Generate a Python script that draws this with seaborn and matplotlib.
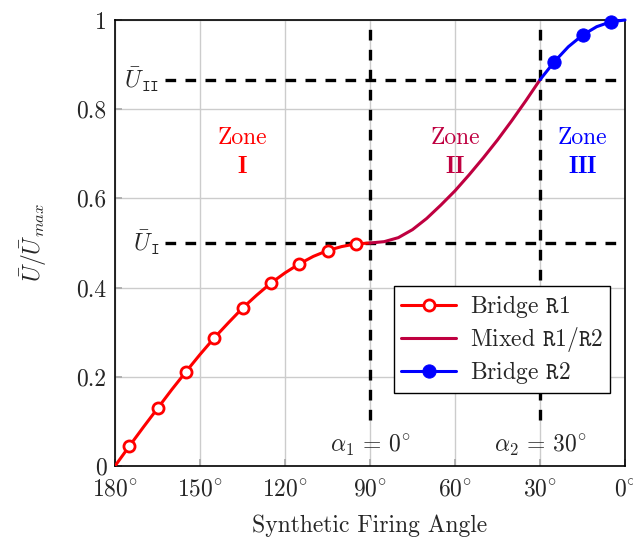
import numpy as np
import pandas as pd
import matplotlib
matplotlib.use("Agg")
import matplotlib.pyplot as plt
import seaborn as sns

# ---- data ----
r1_angle = [180, 175, 170, 165, 160, 155, 150, 145, 140, 135, 130, 125, 120, 115, 110, 105, 100, 95, 90]
r1_value = [0.0, 0.044, 0.087, 0.129, 0.171, 0.211, 0.250, 0.287, 0.321, 0.354, 0.383, 0.410, 0.433, 0.453, 0.470, 0.483, 0.492, 0.498, 0.500]
mix_angle = [90, 85, 80, 75, 70, 65, 60, 55, 50, 45, 40, 35, 30]
mix_value = [0.500, 0.503, 0.512, 0.530, 0.555, 0.585, 0.617, 0.653, 0.691, 0.731, 0.774, 0.819, 0.866]
r2_angle = [30, 25, 20, 15, 10, 5, 0]
r2_value = [0.866, 0.906, 0.940, 0.966, 0.985, 0.996, 1.0]
x_ticks = [180, 150, 120, 90, 60, 30, 0]
y_ticks = [0, 0.2, 0.4, 0.6, 0.8, 1]
u1_level = 0.5
u2_level = 0.866
alpha1 = 90
alpha2 = 30

RED = "#ff0000"
PURPLE = "#bf0040"
BLUE = "#0000ff"

sns.set_theme(style="whitegrid")
plt.rcParams["font.family"] = ["cmr10", "DejaVu Serif"]
plt.rcParams["mathtext.fontset"] = "cm"
plt.rcParams["axes.formatter.use_mathtext"] = True
plt.rcParams["axes.unicode_minus"] = False

fig = plt.figure(figsize=(6.33, 5.41), dpi=100)
ax = fig.add_axes([115/633, 1-466/541, (625-115)/633, (466-20)/541])

FS = 17

r1 = pd.DataFrame({"angle": r1_angle, "U": r1_value})
mx = pd.DataFrame({"angle": mix_angle, "U": mix_value})
r2 = pd.DataFrame({"angle": r2_angle, "U": r2_value})

sns.lineplot(data=r1, x="angle", y="U", ax=ax, color=RED, lw=2.2, marker="o",
             markevery=list(range(1, len(r1_angle), 2)), markersize=8,
             markerfacecolor="white", markeredgecolor=RED, markeredgewidth=2,
             label=r"Bridge $\mathtt{R1}$", zorder=5)
sns.lineplot(data=mx, x="angle", y="U", ax=ax, color=PURPLE, lw=2.2,
             label=r"Mixed $\mathtt{R1}/\mathtt{R2}$", zorder=5)
sns.lineplot(data=r2, x="angle", y="U", ax=ax, color=BLUE, lw=2.2, marker="o",
             markevery=[1, 3, 5], markersize=9.5, markerfacecolor=BLUE,
             markeredgecolor=BLUE, label=r"Bridge $\mathtt{R2}$", zorder=6, clip_on=False)

# dashed reference lines
dash = dict(color="black", lw=2.4, ls=(0, (3.2, 2.8)), zorder=4)
ax.plot([162.5, 0], [u1_level, u1_level], **dash)
ax.plot([162.5, 0], [u2_level, u2_level], **dash)
ax.plot([alpha1, alpha1], [0.103, 1], **dash)
ax.plot([alpha2, alpha2], [0.103, 1], **dash)

ax.text(169, u1_level, r"$\bar{U}_{\mathtt{I}}$", ha="center", va="center", fontsize=FS)
ax.text(170.5, u2_level, r"$\bar{U}_{\mathtt{II}}$", ha="center", va="center", fontsize=FS)

ax.text(135, 0.735, "Zone", color=RED, ha="center", va="center", fontsize=FS)
ax.text(135, 0.67, r"$\mathbf{I}$", color=RED, ha="center", va="center", fontsize=FS)
ax.text(60, 0.735, "Zone", color=PURPLE, ha="center", va="center", fontsize=FS)
ax.text(60, 0.67, r"$\mathbf{II}$", color=PURPLE, ha="center", va="center", fontsize=FS)
ax.text(15, 0.735, "Zone", color=BLUE, ha="center", va="center", fontsize=FS)
ax.text(15, 0.67, r"$\mathbf{III}$", color=BLUE, ha="center", va="center", fontsize=FS)

ax.text(alpha1, 0.047, r"$\alpha_1\,=\,0^{\circ}$", ha="center", va="center", fontsize=FS)
ax.text(alpha2, 0.047, r"$\alpha_2\,=\,30^{\circ}$", ha="center", va="center", fontsize=FS)

ax.set_xlim(180, 0)
ax.set_ylim(0, 1)
ax.set_xticks(x_ticks)
ax.set_xticklabels([rf"${t}^{{\circ}}$" for t in x_ticks], fontsize=FS)
ax.set_yticks(y_ticks)
ax.set_yticklabels([f"{t:g}" for t in y_ticks], fontsize=FS)
ax.set_xlabel("Synthetic Firing Angle", fontsize=FS, labelpad=10)
ax.set_ylabel(r"$\bar{U}/\bar{U}_{max}$", fontsize=FS, labelpad=20)

ax.grid(True, color="#cccccc", lw=1)
ax.tick_params(axis="x", direction="in", length=5, color="#aaaaaa", pad=9, bottom=True)
ax.tick_params(axis="y", direction="in", length=5, color="#aaaaaa", pad=6, left=True)
for s in ax.spines.values():
    s.set_color("black")
    s.set_linewidth(1.2)

leg = ax.legend(loc="lower right", bbox_to_anchor=(0.9706, 0.1637), borderaxespad=0,
                fontsize=FS, frameon=True, fancybox=False, edgecolor="black", framealpha=1,
                handlelength=2.3, borderpad=0.3, labelspacing=0.2, handletextpad=0.6)
leg.get_frame().set_linewidth(1.0)
leg.set_zorder(10)

fig.savefig("out.png", dpi=100)
